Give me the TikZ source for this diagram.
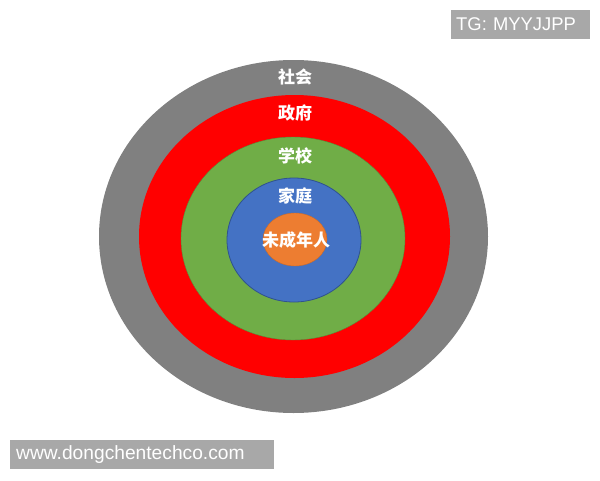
\documentclass[tikz,border=0pt]{standalone}
\usepackage{fontspec}
\setmainfont{Liberation Sans}
\newfontfamily\cjk{Noto Sans CJK SC}
\definecolor{societyGray}{HTML}{808080}
\definecolor{govRed}{HTML}{FF0000}
\definecolor{schoolGreen}{HTML}{70AD47}
\definecolor{homeBlue}{HTML}{4472C4}
\definecolor{homeEdge}{HTML}{2F528F}
\definecolor{minorOrange}{HTML}{ED7D31}
\definecolor{tagGray}{HTML}{A8A8A8}
\tikzset{
    ringlabel/.style={text=white, inner sep=0pt, font=\cjk\bfseries\fontsize{17}{17}\selectfont},
    tagbox/.style={fill=tagGray, text=white, anchor=west, minimum height=29pt, inner ysep=0pt,
        align=left}
}

\begin{document}
\begin{tikzpicture}[x=1pt, y=-1pt]
    \useasboundingbox (0,0) rectangle (600,480);
    % rings, outside in
    \fill[societyGray] (293.5,236.5) ellipse [x radius=194.5, y radius=176.5];
    \fill[govRed] (294.5,236.5) ellipse [x radius=155.5, y radius=141.5];
    \filldraw[fill=schoolGreen, draw=schoolGreen!80!black, line width=0.4pt] (293,238.5) ellipse [x radius=112, y radius=101.5];
    \filldraw[fill=homeBlue, draw=homeEdge, line width=0.8pt] (294,240) ellipse [x radius=67, y radius=62];
    \filldraw[fill=minorOrange, draw=minorOrange!85!black, line width=0.4pt] (295,239.5) ellipse [x radius=32, y radius=26.5];
    % labels
    \node[ringlabel] (society) at (295,77) {社会};
    \node[ringlabel] (gov) at (295,112.5) {政府};
    \node[ringlabel] (school) at (295,155.5) {学校};
    \node[ringlabel] (home) at (295,196) {家庭};
    \node[ringlabel] (minor) at (296,240) {未成年人};
    % watermarks
    \node[tagbox, text width=129pt, inner xsep=5pt, font=\fontsize{18.4}{18.4}\selectfont] (tg) at (451,24.5) {TG: MYYJJPP};
    \node[tagbox, text width=252pt, inner xsep=6pt, font=\fontsize{19.2}{19.2}\selectfont] (web) at (10,454.5) {www.dongchentechco.com};
\end{tikzpicture}
\end{document}
